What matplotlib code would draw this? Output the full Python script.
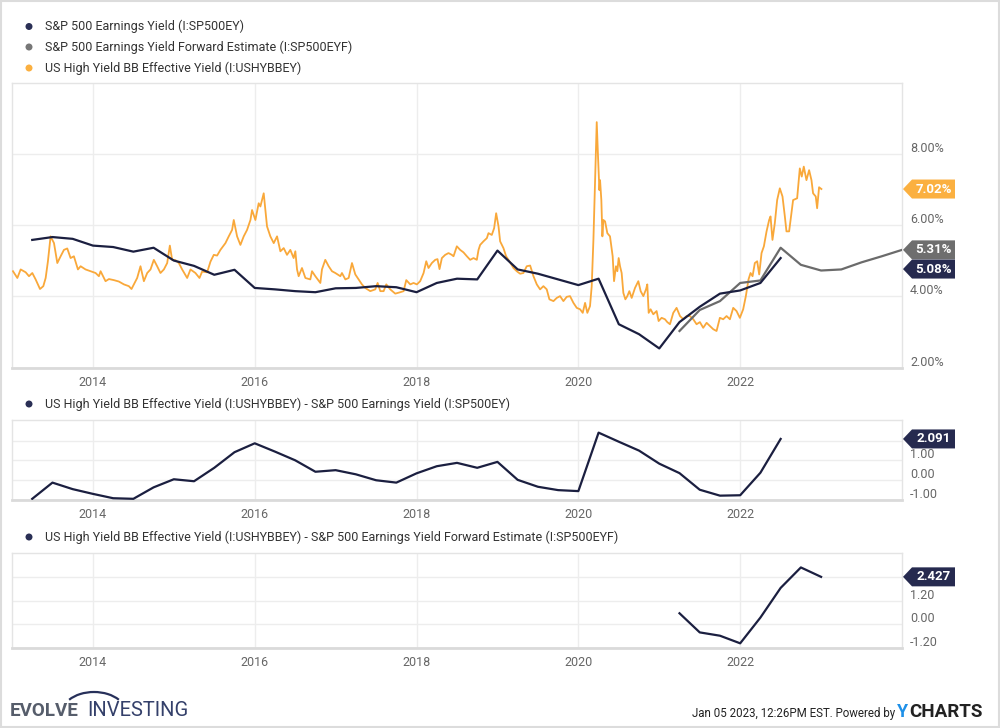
import matplotlib.pyplot as plt
from matplotlib.patches import Polygon, Circle, Arc, Rectangle
from matplotlib.transforms import IdentityTransform, blended_transform_factory, ScaledTranslation

plt.rcParams['font.family'] = ['Roboto', 'DejaVu Sans']

# ---------------- data ----------------
# S&P 500 earnings yield, quarterly (%)
sp_ey_dates = [2013.25, 2013.5, 2013.75, 2014.0, 2014.25, 2014.5, 2014.75, 2015.0, 2015.25, 2015.5,
               2015.75, 2016.0, 2016.25, 2016.5, 2016.75, 2017.0, 2017.25, 2017.5, 2017.75, 2018.0,
               2018.25, 2018.5, 2018.75, 2019.0, 2019.25, 2019.5, 2019.75, 2020.0, 2020.25, 2020.5,
               2020.75, 2021.0, 2021.25, 2021.5, 2021.75, 2022.0, 2022.25, 2022.5]
sp_ey = [5.59, 5.67, 5.62, 5.43, 5.39, 5.26, 5.37, 5.01, 4.86, 4.61,
         4.75, 4.24, 4.20, 4.15, 4.12, 4.23, 4.24, 4.29, 4.26, 4.12,
         4.38, 4.50, 4.48, 5.29, 4.76, 4.64, 4.48, 4.32, 4.50, 3.22,
         2.94, 2.54, 3.28, 3.71, 4.08, 4.17, 4.38, 5.08]

# S&P 500 earnings yield forward estimate (%)
sp_eyf_dates = [2021.25, 2021.5, 2021.75, 2022.0, 2022.25, 2022.5, 2022.75, 2023.0, 2023.25, 2023.5,
                2023.75, 2024.0]
sp_eyf = [3.03, 3.62, 3.87, 4.38, 4.45, 5.37, 4.89, 4.73, 4.76, 4.96, 5.13, 5.31]

# US High Yield BB effective yield (%), (date, value)
hy_bb = [
    (2013.012, 4.71), (2013.066, 4.52), (2013.107, 4.76), (2013.169, 4.68), (2013.210, 4.57),
    (2013.251, 4.66), (2013.292, 4.48), (2013.346, 4.21), (2013.387, 4.29), (2013.416, 4.52),
    (2013.444, 4.99), (2013.477, 5.69), (2013.519, 5.50), (2013.560, 4.94), (2013.601, 5.13),
    (2013.642, 5.31), (2013.683, 5.35), (2013.724, 5.08), (2013.765, 5.13), (2013.815, 4.76),
    (2013.848, 4.85), (2013.909, 4.76), (2013.971, 4.71), (2014.033, 4.66), (2014.074, 4.57),
    (2014.095, 4.71), (2014.156, 4.43), (2014.198, 4.49), (2014.259, 4.46), (2014.321, 4.42),
    (2014.383, 4.34), (2014.444, 4.29), (2014.477, 4.21), (2014.506, 4.34), (2014.547, 4.52),
    (2014.588, 4.85), (2014.630, 4.43), (2014.671, 4.66), (2014.712, 4.76), (2014.753, 5.03),
    (2014.794, 4.85), (2014.835, 4.66), (2014.877, 4.76), (2014.918, 4.94), (2014.951, 5.43),
    (2014.979, 5.03), (2015.021, 5.02), (2015.062, 4.94), (2015.103, 4.76), (2015.165, 4.52),
    (2015.206, 4.76), (2015.267, 4.66), (2015.317, 4.52), (2015.350, 4.70), (2015.412, 4.68),
    (2015.453, 4.98), (2015.494, 5.17), (2015.535, 5.15), (2015.576, 5.31), (2015.638, 5.50),
    (2015.679, 5.69), (2015.720, 5.87), (2015.741, 6.15), (2015.782, 5.69), (2015.823, 5.45),
    (2015.864, 5.69), (2015.905, 5.87), (2015.947, 6.15), (2015.967, 6.43), (2016.008, 6.15),
    (2016.049, 6.62), (2016.070, 6.53), (2016.111, 6.90), (2016.152, 5.97), (2016.193, 5.69),
    (2016.235, 5.50), (2016.276, 5.69), (2016.317, 5.27), (2016.358, 5.36), (2016.399, 5.17),
    (2016.440, 5.31), (2016.481, 5.08), (2016.502, 5.27), (2016.523, 4.76), (2016.543, 4.57),
    (2016.584, 4.80), (2016.626, 4.52), (2016.687, 4.48), (2016.708, 4.71), (2016.749, 4.57),
    (2016.811, 4.38), (2016.831, 4.76), (2016.872, 5.03), (2016.914, 4.85), (2016.955, 4.71),
    (2016.996, 4.66), (2017.058, 4.57), (2017.078, 4.66), (2017.120, 4.48), (2017.161, 4.52),
    (2017.202, 4.94), (2017.243, 4.62), (2017.284, 4.48), (2017.325, 4.34), (2017.366, 4.24),
    (2017.428, 4.15), (2017.490, 4.20), (2017.519, 4.38), (2017.552, 4.15), (2017.593, 4.15),
    (2017.626, 4.34), (2017.675, 4.20), (2017.737, 4.08), (2017.799, 4.12), (2017.840, 4.15),
    (2017.873, 4.46), (2017.922, 4.34), (2017.963, 4.38), (2018.004, 4.34), (2018.045, 4.43),
    (2018.087, 4.66), (2018.120, 4.99), (2018.148, 4.80), (2018.189, 4.94), (2018.231, 5.03),
    (2018.259, 5.05), (2018.284, 4.77), (2018.313, 5.08), (2018.354, 5.17), (2018.395, 5.22),
    (2018.436, 5.17), (2018.457, 5.13), (2018.498, 5.41), (2018.539, 5.31), (2018.580, 5.24),
    (2018.622, 5.13), (2018.663, 5.03), (2018.704, 5.08), (2018.745, 5.03), (2018.766, 5.31),
    (2018.786, 5.45), (2018.827, 5.55), (2018.869, 5.64), (2018.889, 5.78), (2018.930, 5.73),
    (2018.959, 5.92), (2018.984, 6.34), (2019.013, 5.97), (2019.033, 5.55), (2019.074, 5.36),
    (2019.107, 5.13), (2019.148, 4.99), (2019.198, 4.80), (2019.239, 4.71), (2019.280, 4.64),
    (2019.321, 4.66), (2019.362, 4.85), (2019.404, 4.87), (2019.445, 4.57), (2019.486, 4.34),
    (2019.527, 4.20), (2019.568, 4.29), (2019.609, 4.20), (2019.642, 3.92), (2019.692, 3.87),
    (2019.733, 3.96), (2019.774, 4.01), (2019.815, 3.87), (2019.856, 3.99), (2019.897, 4.01),
    (2019.939, 3.82), (2019.980, 3.68), (2020.021, 3.64), (2020.054, 3.54), (2020.083, 3.82),
    (2020.111, 3.54), (2020.144, 3.73), (2020.165, 4.29), (2020.186, 5.59), (2020.206, 7.18),
    (2020.227, 8.90), (2020.243, 7.93), (2020.260, 6.99), (2020.268, 7.27), (2020.284, 6.71),
    (2020.297, 5.69), (2020.309, 6.15), (2020.330, 6.11), (2020.358, 5.78), (2020.391, 5.69),
    (2020.424, 5.13), (2020.441, 4.43), (2020.465, 4.85), (2020.482, 4.71), (2020.498, 5.08),
    (2020.515, 4.85), (2020.535, 4.66), (2020.556, 4.10), (2020.581, 3.92), (2020.605, 4.01),
    (2020.630, 4.15), (2020.659, 3.96), (2020.700, 4.24), (2020.741, 4.43), (2020.770, 4.15),
    (2020.803, 4.01), (2020.836, 4.20), (2020.852, 4.34), (2020.869, 3.54), (2020.893, 3.64),
    (2020.926, 3.50), (2020.967, 3.59), (2020.992, 3.31), (2021.029, 3.40), (2021.070, 3.36),
    (2021.099, 3.28), (2021.132, 3.22), (2021.173, 3.54), (2021.214, 3.68), (2021.256, 3.45),
    (2021.297, 3.36), (2021.338, 3.45), (2021.379, 3.45), (2021.420, 3.36), (2021.461, 3.22),
    (2021.502, 3.28), (2021.543, 3.12), (2021.585, 3.26), (2021.626, 3.17), (2021.667, 3.08),
    (2021.708, 3.03), (2021.749, 3.40), (2021.790, 3.36), (2021.832, 3.45), (2021.873, 3.36),
    (2021.914, 3.68), (2021.955, 3.59), (2021.996, 3.40), (2022.037, 3.64), (2022.070, 4.01),
    (2022.103, 4.48), (2022.128, 4.66), (2022.153, 4.57), (2022.181, 4.94), (2022.210, 4.99),
    (2022.235, 4.62), (2022.264, 5.22), (2022.293, 5.41), (2022.326, 5.83), (2022.358, 6.15),
    (2022.375, 6.25), (2022.399, 5.59), (2022.428, 6.06), (2022.457, 6.71), (2022.490, 7.04),
    (2022.523, 6.81), (2022.552, 6.25), (2022.572, 5.83), (2022.605, 5.83), (2022.634, 6.34),
    (2022.654, 6.71), (2022.704, 6.76), (2022.737, 7.60), (2022.761, 7.37), (2022.786, 7.65),
    (2022.819, 7.27), (2022.852, 7.55), (2022.881, 7.27), (2022.901, 6.90), (2022.934, 6.81),
    (2022.951, 6.48), (2022.975, 7.07), (2023.004, 7.02),
]

# HY BB yield minus S&P 500 earnings yield
spread_ey_dates = sp_ey_dates
spread_ey = [-0.94, -0.12, -0.45, -0.69, -0.91, -0.94, -0.36, 0.05, -0.05, 0.63,
             1.42, 1.87, 1.45, 1.01, 0.43, 0.51, 0.30, 0.00, -0.12, 0.35,
             0.71, 0.88, 0.63, 0.93, 0.02, -0.33, -0.50, -0.55, 2.41, 1.95,
             1.50, 0.84, 0.36, -0.48, -0.78, -0.76, 0.38, 2.091]

# HY BB yield minus S&P 500 forward earnings yield
spread_eyf_dates = [2021.25, 2021.5, 2021.75, 2022.0, 2022.25, 2022.5, 2022.75, 2023.0]
spread_eyf = [0.56, -0.42, -0.59, -0.98, 0.34, 1.86, 2.91, 2.427]

year_ticks = [2014, 2016, 2018, 2020, 2022]

NAVY = '#1b1f40'
GREY = '#6b6b6b'
ORANGE = '#f9a83a'
TEXT = '#333333'
TICK = '#666666'
W, H = 1000, 728

fig = plt.figure(figsize=(10, 7.28), dpi=100)
fig.patch.set_facecolor('white')


def px_axes(left, top, right, bottom):
    # axes placed with pixel coordinates measured from the top-left of the image
    return fig.add_axes([left / W, 1 - bottom / H, (right - left) / W, (bottom - top) / H])


def style_axes(ax, ylim, yticks, ylabels):
    ax.set_xlim(2013.0, 2024.0)
    ax.set_ylim(*ylim)
    ax.set_xticks(year_ticks)
    ax.set_xticklabels([str(y) for y in year_ticks])
    ax.set_yticks(yticks)
    ax.yaxis.set_ticklabels([])
    ax.grid(True, color='#ededed', lw=1)
    ax.set_axisbelow(True)
    ax.tick_params(axis='both', length=0, labelsize=9, labelcolor=TICK)
    ax.tick_params(axis='x', pad=6)
    for s in ax.spines.values():
        s.set_color('#e4e4e4')
        s.set_linewidth(1)
    ax.spines['bottom'].set_color('#dadada')
    ax.spines['bottom'].set_linewidth(2)
    # y labels sit just above their grid line, right of the plot (None = hidden behind a tag)
    trans = blended_transform_factory(ax.transAxes, ax.transData) + \
        ScaledTranslation(0.08, 0.055, fig.dpi_scale_trans)
    for v, lab in zip(yticks, ylabels):
        if lab:
            ax.text(1.0, v, lab, transform=trans, ha='left', va='center', fontsize=9, color=TICK,
                    clip_on=False)


def draw_tag(ax, value, text, color, shift=0):
    # arrow-shaped value tag at the right edge of the panel
    _, y = ax.transData.transform((2020, value))
    y -= shift
    x0 = ax.transAxes.transform((1, 0))[0] + 1
    h = 9.5
    pts = [(x0, y), (x0 + 9, y + h), (x0 + 52, y + h), (x0 + 52, y - h), (x0 + 9, y - h)]
    fig.add_artist(Polygon(pts, closed=True, fc=color, ec='none', transform=IdentityTransform(), zorder=5))
    fig.text((x0 + 31) / W, y / H, text, color='white', fontweight='bold', fontsize=9.5,
             ha='center', va='center', zorder=6)


def legend_item(y_img, text, color):
    fig.add_artist(Circle((29, H - y_img), 3.5, fc=color, ec='none', transform=IdentityTransform()))
    fig.text(45 / W, 1 - y_img / H, text, fontsize=9, color=TEXT, ha='left', va='center')


# ---------------- main panel ----------------
ax1 = px_axes(12, 83, 902, 368)
style_axes(ax1, (1.99, 10.0), [2, 4, 6, 8], ['2.00%', '4.00%', '6.00%', '8.00%'])
hy_dates = [d for d, _ in hy_bb]
hy_vals = [v for _, v in hy_bb]
ax1.plot(hy_dates, hy_vals, color=ORANGE, lw=1.3, zorder=3)
ax1.plot(sp_eyf_dates, sp_eyf, color=GREY, lw=1.6, zorder=3)
ax1.plot(sp_ey_dates, sp_ey, color=NAVY, lw=1.6, zorder=4)

legend_item(26.5, 'S&P 500 Earnings Yield (I:SP500EY)', '#2a2f55')
legend_item(47, 'S&P 500 Earnings Yield Forward Estimate (I:SP500EYF)', '#777777')
legend_item(68, 'US High Yield BB Effective Yield (I:USHYBBEY)', '#fbb040')

draw_tag(ax1, hy_vals[-1], '7.02%', '#fbb040')
draw_tag(ax1, sp_eyf[-1], '5.31%', '#6e6e6e')
draw_tag(ax1, sp_ey[-1], '5.08%', '#262a4f', shift=11)

# ---------------- spread vs earnings yield ----------------
legend_item(404, 'US High Yield BB Effective Yield (I:USHYBBEY) - S&P 500 Earnings Yield (I:SP500EY)', '#2a2f55')
ax2 = px_axes(12, 420, 902, 500)
style_axes(ax2, (-1.0, 3.05), [-1, 0, 1, 2], ['-1.00', '0.00', '1.00', None])
ax2.plot(spread_ey_dates, spread_ey, color=NAVY, lw=1.6, zorder=3)
draw_tag(ax2, spread_ey[-1], '2.091', '#262a4f')

# ---------------- spread vs forward earnings yield ----------------
legend_item(537, 'US High Yield BB Effective Yield (I:USHYBBEY) - S&P 500 Earnings Yield Forward Estimate (I:SP500EYF)', '#2a2f55')
ax3 = px_axes(12, 553, 902, 648)
style_axes(ax3, (-1.22, 3.65), [-1.2, 0, 1.2, 2.4], ['-1.20', '0.00', '1.20', None])
ax3.plot(spread_eyf_dates, spread_eyf, color=NAVY, lw=1.6, zorder=3)
draw_tag(ax3, spread_eyf[-1], '2.427', '#262a4f')

# ---------------- footer ----------------
fig.text(10 / W, 1 - 711 / H, 'EVOLVE', fontsize=13.5, fontweight='bold', color='#565d6b', ha='left', va='center')
fig.text(87 / W, 1 - 711 / H, 'INVESTING', fontsize=14.5, color='#34406a', ha='left', va='center')
fig.add_artist(Arc((94, H - 713), 64, 42, theta1=28, theta2=152, color='#27305a', lw=1.6,
                   transform=IdentityTransform()))
fig.text(895 / W, 1 - 713 / H, 'Jan 05 2023, 12:26PM EST. Powered by', fontsize=8.3, color='#222222',
         ha='right', va='center')
fig.text(897 / W, 1 - 712 / H, 'Y', fontsize=13, fontweight='bold', color='#1e90e8', ha='left', va='center')
fig.text(909 / W, 1 - 712 / H, 'CHARTS', fontsize=13.5, fontweight='bold', color='#222222', ha='left', va='center')

# light frame round the whole picture
fig.add_artist(Rectangle((0.001, 0.001), 0.998, 0.998, transform=fig.transFigure, fc='none',
                         ec='#dcdcdc', lw=1.5))

fig.savefig('out.png', dpi=100)
